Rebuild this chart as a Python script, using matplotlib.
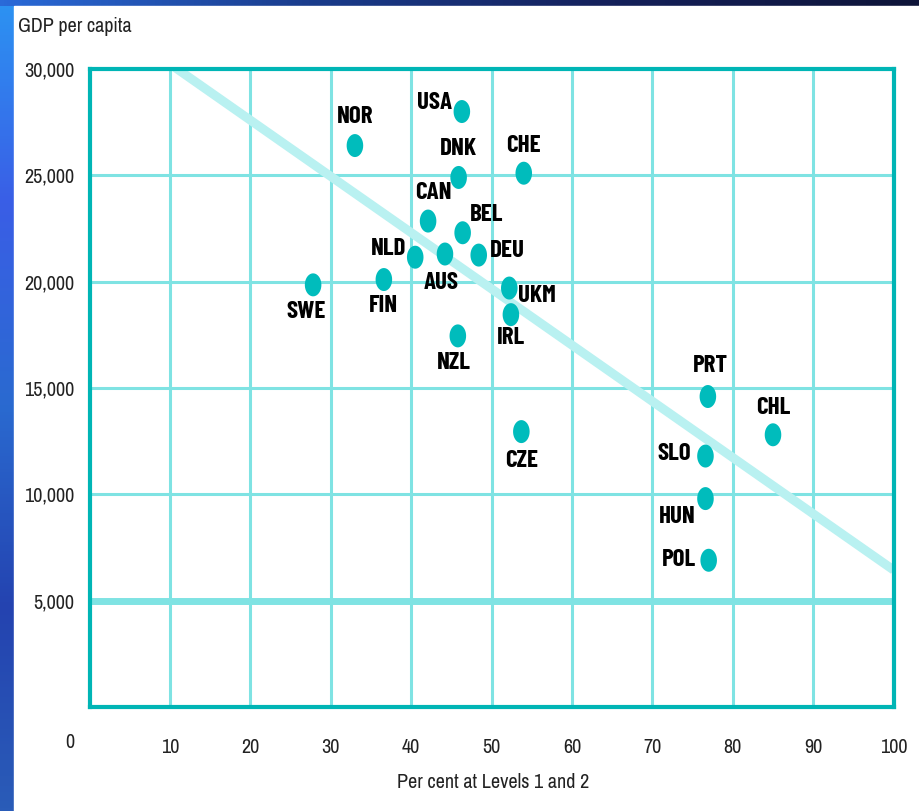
import matplotlib
matplotlib.use('Agg')
import matplotlib.pyplot as plt
import numpy as np
from matplotlib.path import Path
from matplotlib.colors import LinearSegmentedColormap

# Données
pays = ['USA', 'NOR', 'DNK', 'CHE', 'CAN', 'BEL', 'NLD', 'AUS', 'DEU', 'SWE',
        'FIN', 'UKM', 'IRL', 'NZL', 'CZE', 'PRT', 'CHL', 'SLO', 'HUN', 'POL']
niveaux_1_2 = [46.3, 33.0, 45.9, 54.0, 42.1, 46.4, 40.5, 44.2, 48.4, 27.8,
               36.6, 52.2, 52.4, 45.8, 53.7, 76.9, 85.0, 76.6, 76.6, 77.0]
pib_par_hab = [28000, 26400, 24900, 25100, 22850, 22300, 21150, 21300, 21250, 19850,
               20100, 19700, 18450, 17450, 12950, 14600, 12800, 11800, 9800, 6900]

# Droite de tendance (deux extrémités)
tendance_x = [0, 100]
tendance_y = [32880, 6440]

x_ticks = [0, 10, 20, 30, 40, 50, 60, 70, 80, 90, 100]
y_ticks = [5000, 10000, 15000, 20000, 25000, 30000]
y_labels = ['5,000', '10,000', '15,000', '20,000', '25,000', '30,000']

# Décalage des étiquettes (pixels) par rapport au point
decalages = {
    'USA': (-27, 9), 'NOR': (0, 29), 'DNK': (0, 28), 'CHE': (0, 27),
    'CAN': (5, 28), 'BEL': (24, 18), 'NLD': (-27, 8), 'AUS': (-4, -29),
    'DEU': (29, 4), 'SWE': (-7, -27), 'FIN': (0, -26), 'UKM': (28, -8),
    'IRL': (0, -23), 'NZL': (-4, -27), 'CZE': (0, -29), 'PRT': (3, 31),
    'CHL': (0, 27), 'SLO': (-31, 2), 'HUN': (-28, -18), 'POL': (-30, 0),
}

police = ['Archivo Narrow', 'Liberation Sans Narrow', 'DejaVu Sans']
police_gras = ['Barlow Condensed', 'Fira Sans Extra Condensed', 'DejaVu Sans']

teal = '#00b5b5'
grille = '#7fe3e3'
point = '#00bcbc'
ligne = '#b9f1f1'
texte = '#222222'

fig = plt.figure(figsize=(9.2, 8.11), dpi=100)

# Fond : bandeaux bleus en dégradé (haut et gauche)
bg = fig.add_axes([0, 0, 1, 1], zorder=-10)
bg.axis('off')
cm_gauche = LinearSegmentedColormap.from_list('g', ['#2c93f2', '#3a5ee6', '#2a6ad0', '#2443b0', '#2a5cb8'])
cm_haut = LinearSegmentedColormap.from_list('h', ['#2a6ad8', '#1a3c8c', '#14205a', '#0e1438'])
bg.imshow(np.linspace(0, 1, 256).reshape(-1, 1), cmap=cm_gauche, extent=[0, 14, 811, 0], aspect='auto')
bg.imshow(np.linspace(0, 1, 256).reshape(1, -1), cmap=cm_haut, extent=[0, 920, 6, 0], aspect='auto')
bg.add_patch(plt.Rectangle((14, 6), 906, 805, color='white', zorder=2))
bg.set_xlim(0, 920)
bg.set_ylim(811, 0)

ax = fig.add_axes([89.6 / 920, 104 / 811, 804 / 920, 638 / 811])
ax.set_xlim(0, 100)
ax.set_ylim(0, 30000)

# Grille
for xv in x_ticks[1:-1]:
    ax.axvline(xv, color=grille, lw=2.2, zorder=1)
for yv in y_ticks[:-1]:
    ax.axhline(yv, color=grille, lw=5 if yv == 5000 else 2.2, zorder=1)

# Tendance
ax.plot(tendance_x, tendance_y, color=ligne, lw=6.5, solid_capstyle='butt', zorder=2)

# Points (légèrement ovales)
t = np.linspace(0, 2 * np.pi, 40)
ovale = Path(np.column_stack([0.72 * np.cos(t), np.sin(t)]))
ax.scatter(niveaux_1_2, pib_par_hab, marker=ovale, s=23 ** 2 * 0.5184, color=point,
           edgecolors='none', zorder=3)

for nom, xv, yv in zip(pays, niveaux_1_2, pib_par_hab):
    dx, dy = decalages[nom]
    ax.annotate(nom, (xv, yv), xytext=(dx, dy), textcoords='offset pixels',
                ha='center', va='center', fontsize=18, fontweight='bold',
                family=police_gras, color='black', zorder=4)

for s in ax.spines.values():
    s.set_color(teal)
    s.set_linewidth(3)
    s.set_zorder(5)

ax.set_xticks(x_ticks)
ax.set_xticklabels([''] + [str(v) for v in x_ticks[1:]])
ax.set_yticks(y_ticks)
ax.set_yticklabels(y_labels)
ax.tick_params(length=0, labelsize=14.5)
ax.tick_params(axis='x', pad=22)
ax.tick_params(axis='y', pad=11)
for lab in ax.get_xticklabels() + ax.get_yticklabels():
    lab.set_family(police)
    lab.set_color(texte)
ax.annotate('0', (0, 0), xycoords=('data', 'axes fraction'), xytext=(-20, -36),
            textcoords='offset pixels', ha='center', va='center', fontsize=14.5,
            family=police, color=texte, annotation_clip=False)

fig.text(18 / 920, 1 - 27 / 811, 'GDP per capita', ha='left', va='center',
         fontsize=14.5, family=police, color=texte)
fig.text(493 / 920, 1 - 782 / 811, 'Per cent at Levels 1 and 2', ha='center', va='center',
         fontsize=14.5, family=police, color=texte)

fig.savefig('out.png', dpi=100)
